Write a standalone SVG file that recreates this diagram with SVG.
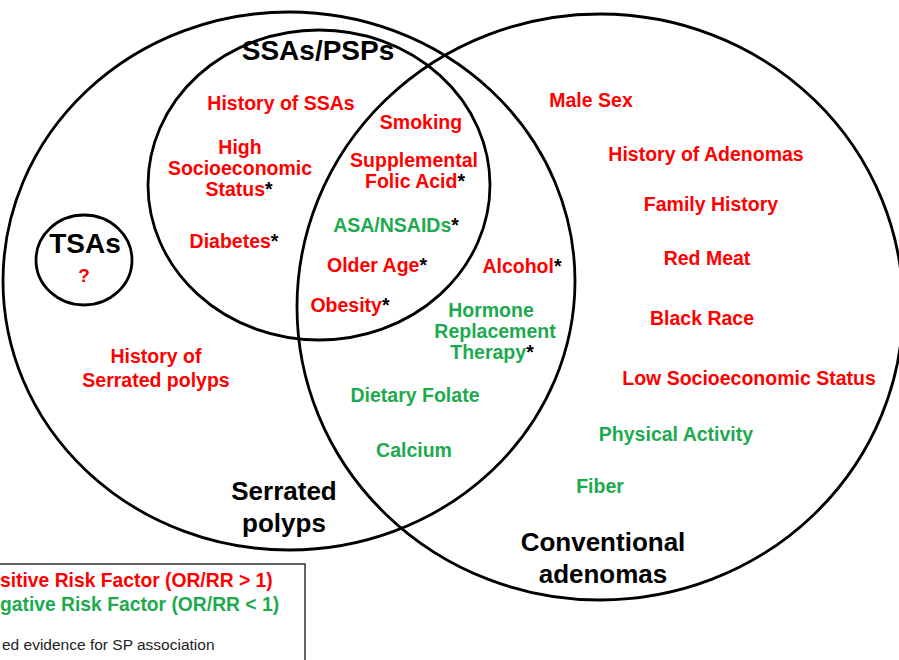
<svg xmlns="http://www.w3.org/2000/svg" width="899" height="660" viewBox="0 0 899 660">
<style>
.c{fill:none;stroke:#000;stroke-width:2.8}
text{font-family:"Liberation Sans",Arial,sans-serif;font-weight:bold;text-anchor:middle}
.r{fill:#FF0000;font-size:19.5px}
.g{fill:#1DAA4F;font-size:19.5px}
.k{fill:#000}
.t{fill:#000;font-size:26px}
.lg{text-anchor:start;font-size:19.3px}
</style>
<rect width="899" height="660" fill="#fff"/>
<g id="circles">
<ellipse id="serrated" class="c" cx="289" cy="281" rx="286" ry="269"/>
<ellipse id="conventional" class="c" cx="600" cy="307" rx="303" ry="293"/>
<ellipse id="ssas" class="c" cx="319" cy="185" rx="171" ry="155"/>
<ellipse id="tsas" class="c" cx="84" cy="260" rx="48" ry="45"/>
</g>
<g id="titles">
<text class="t" x="318" y="60" style="font-size:28px">SSAs/PSPs</text>
<text class="t" x="85" y="253" style="font-size:28px">TSAs</text>
<text class="r" x="84" y="282" style="font-size:19px">?</text>
<text class="t" x="284" y="500">Serrated</text>
<text class="t" x="284" y="532">polyps</text>
<text class="t" x="603" y="551">Conventional</text>
<text class="t" x="603" y="583">adenomas</text>
</g>
<g id="ssa-only">
<text class="r" x="281" y="110">History of SSAs</text>
<text class="r" x="240" y="154">High</text>
<text class="r" x="240" y="175">Socioeconomic</text>
<text class="r" x="239" y="196">Status<tspan class="k">*</tspan></text>
<text class="r" x="234" y="248">Diabetes<tspan class="k">*</tspan></text>
</g>
<g id="all-three">
<text class="r" x="421" y="129">Smoking</text>
<text class="r" x="414" y="167">Supplemental</text>
<text class="r" x="415" y="188">Folic Acid<tspan class="k">*</tspan></text>
<text class="g" x="396" y="232">ASA/NSAIDs<tspan class="k">*</tspan></text>
<text class="r" x="377" y="272">Older Age<tspan class="k">*</tspan></text>
<text class="r" x="350" y="312">Obesity<tspan class="k">*</tspan></text>
</g>
<g id="serrated-only">
<text class="r" x="156" y="363">History of</text>
<text class="r" x="156" y="387">Serrated polyps</text>
</g>
<g id="serrated-conventional">
<text class="r" x="522" y="273">Alcohol<tspan class="k">*</tspan></text>
<text class="g" x="491" y="317">Hormone</text>
<text class="g" x="495" y="338">Replacement</text>
<text class="g" x="492" y="359">Therapy<tspan class="k">*</tspan></text>
<text class="g" x="415" y="402">Dietary Folate</text>
<text class="g" x="414" y="457">Calcium</text>
</g>
<g id="conventional-only">
<text class="r" x="591" y="107">Male Sex</text>
<text class="r" x="706" y="161">History of Adenomas</text>
<text class="r" x="711" y="211">Family History</text>
<text class="r" x="707" y="265">Red Meat</text>
<text class="r" x="702" y="325">Black Race</text>
<text class="r" x="749" y="385">Low Socioeconomic Status</text>
<text class="g" x="676" y="441">Physical Activity</text>
<text class="g" x="600" y="493">Fiber</text>
</g>
<g id="legend">
<rect x="-10" y="564" width="315" height="100" fill="#fff" stroke="#333" stroke-width="1.5"/>
<text class="r lg" x="0" y="587">sitive Risk Factor (OR/RR &gt; 1)</text>
<text class="g lg" x="0" y="611">gative Risk Factor (OR/RR &lt; 1)</text>
<text x="2" y="650" style="font-weight:normal;text-anchor:start;font-size:15.5px;fill:#222">ed  evidence for SP association</text>
</g>
</svg>
